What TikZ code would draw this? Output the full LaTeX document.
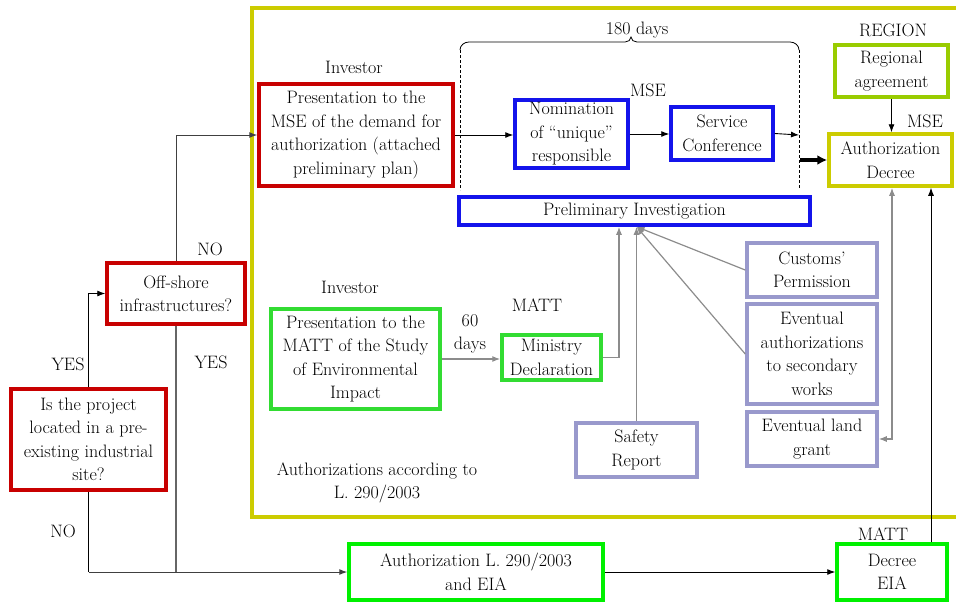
\documentclass[tikz,border=0pt]{standalone}
\usetikzlibrary{arrows.meta}
\definecolor{boxred}{RGB}{200,0,0}
\definecolor{boxblue}{RGB}{20,20,235}
\definecolor{frameyel}{RGB}{204,204,0}
\definecolor{olivegr}{RGB}{153,204,0}
\definecolor{matgreen}{RGB}{50,220,50}
\definecolor{brightgr}{RGB}{0,240,0}
\definecolor{lavender}{RGB}{153,153,204}
\definecolor{linegray}{RGB}{140,140,140}
\begin{document}
\begin{tikzpicture}[x=1pt,y=-1pt,
  font=\fontsize{18}{23.5}\selectfont,
  box/.style={draw, line width=3.5pt, fill=white, align=center, inner sep=0pt},
  lbl/.style={align=center, inner sep=0pt},
  arr/.style={-{Latex[length=8pt,width=6pt]}, line width=0.9pt},
  garr/.style={arr, draw=linegray, line width=1.2pt},
  darr/.style={arr, draw=black!75, line width=1pt}]
\useasboundingbox (0,0) rectangle (956,603);

% outer frame of the L. 290/2003 procedure
\draw[frameyel, line width=4pt] (962,8) -- (252,8) -- (252,517) -- (962,517);

% decision boxes
\node[box, draw=boxred, minimum width=155, minimum height=101] (isq) at (88.5,439.5)
  {Is the project\\located in a pre-\\existing industrial\\site?};
\node[box, draw=boxred, minimum width=138, minimum height=61] (off) at (176,293.5)
  {Off-shore\\infrastructures?};

% MSE branch
\node[box, draw=boxred, minimum width=194, minimum height=102] (pmse) at (356,135)
  {Presentation to the\\MSE of the demand for\\authorization (attached\\preliminary plan)};
\node[box, draw=boxblue, minimum width=113, minimum height=68] (nom) at (571.5,134)
  {Nomination\\of ``unique''\\responsible};
\node[box, draw=boxblue, minimum width=102, minimum height=53] (serv) at (722,133.5)
  {Service\\Conference};
\node[box, draw=boxblue, minimum width=351, minimum height=28] (prel) at (634.5,211)
  {Preliminary Investigation};
\node[box, draw=olivegr, minimum width=113, minimum height=52] (reg) at (891.5,71)
  {Regional\\agreement};
\node[box, draw=frameyel, minimum width=123, minimum height=52] (auth) at (890.5,160)
  {Authorization\\Decree};

% MATT branch
\node[box, draw=matgreen, minimum width=169, minimum height=100] (pmatt) at (355.5,359)
  {Presentation to the\\MATT of the Study\\of Environmental\\Impact};
\node[box, draw=matgreen, minimum width=99, minimum height=45] (mind) at (551.5,357.5)
  {Ministry\\Declaration};

% further documents
\node[box, draw=lavender, minimum width=121, minimum height=54] (safe) at (636.5,450)
  {Safety\\Report};
\node[box, draw=lavender, minimum width=130, minimum height=54] (cust) at (812,270)
  {Customs'\\Permission};
\node[box, draw=lavender, minimum width=130, minimum height=100] (evauth) at (812,354)
  {Eventual\\authorizations\\to secondary\\works};
\node[box, draw=lavender, minimum width=130, minimum height=54] (land) at (812,439)
  {Eventual land\\grant};

% EIA track
\node[box, draw=brightgr, minimum width=254, minimum height=56] (authl) at (476,572)
  {Authorization L. 290/2003\\and EIA};
\node[box, draw=brightgr, minimum width=110, minimum height=56] (deia) at (892,572)
  {Decree\\EIA};

% labels
\node[lbl] (l1) at (354,67) {Investor};
\node[lbl] (l2) at (637,30) {180 days};
\node[lbl] (l3) at (648,90) {MSE};
\node[lbl] (l4) at (893,30) {REGION};
\node[lbl] (l5) at (925,121) {MSE};
\node[lbl] (l6) at (210,249) {NO};
\node[lbl] (l7) at (350,287) {Investor};
\node[lbl] (l8) at (537,305) {MATT};
\node[lbl] (l9) at (470,334) {60\\days};
\node[lbl] (l10) at (68,364) {YES};
\node[lbl] (l11) at (211,362) {YES};
\node[lbl] (l12) at (63,531) {NO};
\node[lbl] (l13) at (377,483) {Authorizations according to\\L. 290/2003};
\node[lbl] (l14) at (883,534) {MATT};

% 180-day window: brace and dashed sides
\coordinate (bTL) at (460,50);
\coordinate (bTR) at (799,50);
\coordinate (bBL) at (460,190);
\coordinate (bBR) at (799,188);
\coordinate (bIn) at (799,135);
\coordinate (bOut) at (800,160);
\draw[line width=0.8pt] (bTL) to[out=90,in=180] (469,42) -- (625,42)
  to[out=0,in=-90] (631,37) to[out=-90,in=180] (637,42) -- (790,42)
  to[out=0,in=90] (bTR);
\draw[dashed, line width=0.7pt, dash pattern=on 3pt off 2pt] (bTL) -- (bBL);
\draw[dashed, line width=0.7pt, dash pattern=on 3pt off 2pt] (bTR) -- (bBR);

% decision flow
\draw[arr] (isq.north) |- (off.west);
\draw[darr] (off.north) |- (pmse.west);
\draw[line width=1pt] (isq.south) -- (isq.south |- authl.west);
\draw[darr] (isq.south |- authl.west) -- (authl.west);
\draw[draw=black!60, line width=1.2pt] (off.south) -- (off.south |- authl.west);

% MSE flow
\draw[arr] (pmse.east) -- (pmse.east -| nom.west);
\draw[arr] (nom.east) -- (nom.east -| serv.west);
\draw[arr] (serv.east) -- (bIn);
\draw[-{Latex[length=10pt,width=10pt]}, line width=3.5pt] (bOut) -- (auth.west);
\draw[arr] (reg.south) -- (reg.south |- auth.north);

% MATT flow
\draw[garr] (pmatt.east) -- (pmatt.east -| mind.west);
\coordinate (xM) at (619,0);
\coordinate (xS) at (636.5,0);
\coordinate (xL) at (892,0);
\coordinate (xR) at (931,0);
\draw[garr] (mind.east) -| (prel.south -| xM);
\draw[garr] (safe.north) -- (prel.south -| xS);
\draw[garr] (cust.west) -- (prel.south -| xS);
\draw[garr] (evauth.west) -- (prel.south -| xS);
\draw[garr, {Latex[length=8pt,width=6pt]}-{Latex[length=8pt,width=6pt]}] (land.east) -| (auth.south -| xL);

% EIA flow
\draw[arr] (authl.east) -- (deia.west);
\draw[arr] (deia.north -| xR) -- (auth.south -| xR);
\end{tikzpicture}
\end{document}
